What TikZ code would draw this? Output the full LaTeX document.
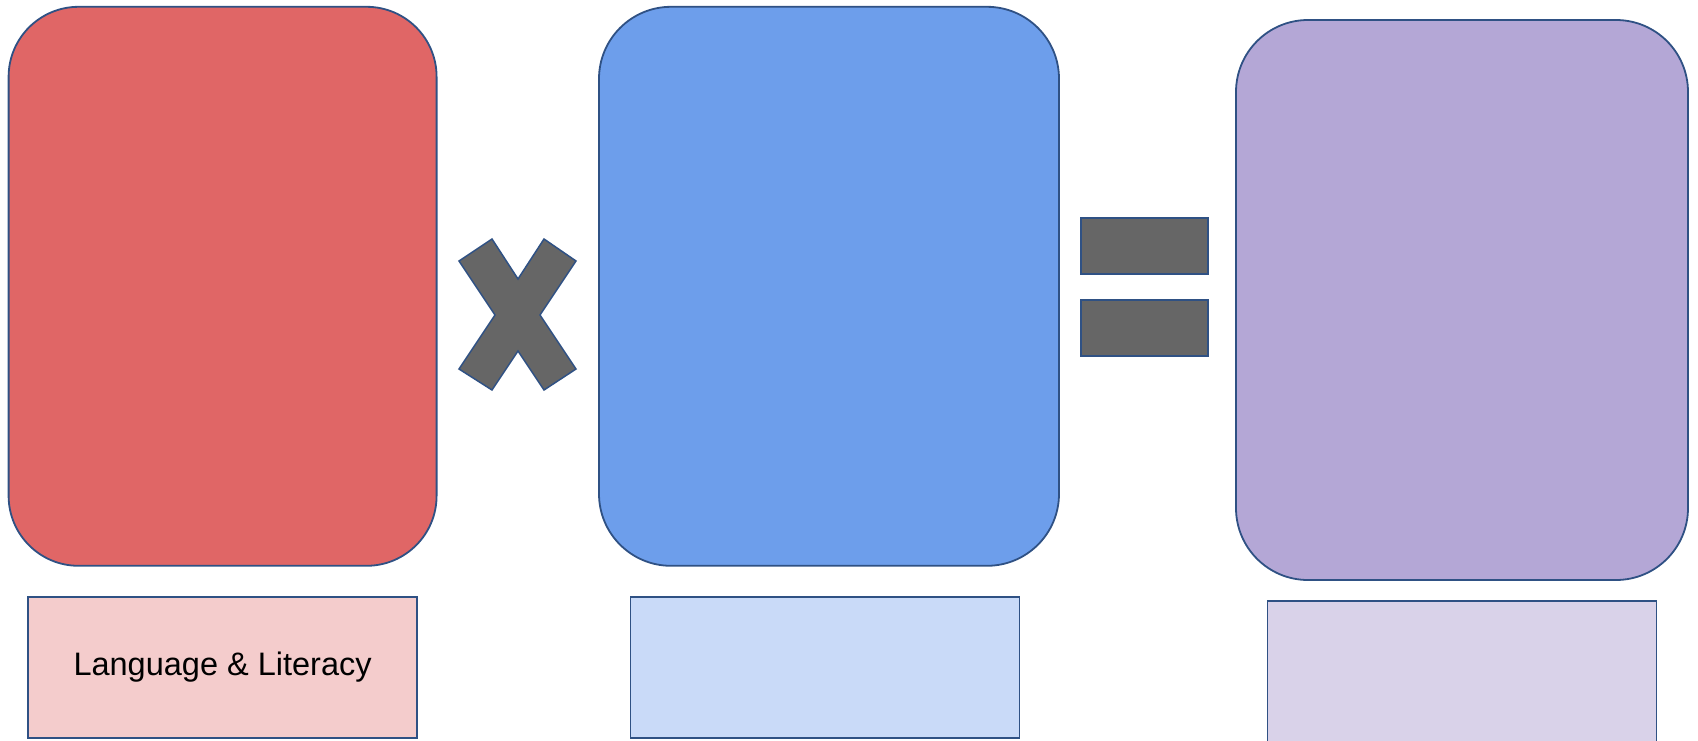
\documentclass[tikz,border=0pt]{standalone}
\usepackage{fontspec}
\setmainfont{Liberation Sans}
\usepackage{xcolor}
\usetikzlibrary{positioning}
\definecolor{litred}{HTML}{E06666}
\definecolor{litpink}{HTML}{F4CCCC}
\definecolor{midblue}{HTML}{6D9EEB}
\definecolor{paleblue}{HTML}{C9DAF8}
\definecolor{lavender}{HTML}{B4A7D6}
\definecolor{palelav}{HTML}{D9D2E9}
\definecolor{edgeblue}{HTML}{2F5184}
\definecolor{opgray}{HTML}{666666}
\tikzset{
    bigbox/.style={draw=edgeblue, line width=1.8pt, rounded corners=72pt, inner sep=0pt},
    labelbox/.style={draw=edgeblue, line width=1.8pt, inner sep=0pt, minimum width=389pt, minimum height=141pt, font=\fontsize{32.5}{38}\selectfont},
    opbar/.style={draw=edgeblue, line width=1.5pt, fill=opgray, inner sep=0pt, minimum width=127pt, minimum height=56pt}
}
\begin{document}
\begin{tikzpicture}[x=1pt, y=-1pt]
    \useasboundingbox (0,0) rectangle (1698,740);
    % factor boxes
    \node[bigbox, fill=litred, minimum width=428pt, minimum height=559pt, rounded corners=70pt] (lit) at (222.6,286.3) {};
    \node[bigbox, fill=midblue, minimum width=460pt, minimum height=559pt] (mid) at (829,286.3) {};
    \node[bigbox, fill=lavender, minimum width=452pt, minimum height=560pt] (res) at (1462,300) {};
    % labels
    \node[labelbox, fill=litpink, below=29pt of lit] (litlabel) {Language \& Literacy};
    \node[labelbox, fill=paleblue, below=29pt of mid, xshift=-4pt] (midlabel) {};
    \node[labelbox, fill=palelav, below=19pt of res, minimum height=146pt] (reslabel) {};
    % times sign
    \draw[draw=edgeblue, line width=1.5pt, fill=opgray, line join=miter]
        (459,261) -- (492,239) -- (518,279) -- (544,239) -- (576,261) -- (540,315)
        -- (576,369) -- (544,390) -- (518,351) -- (492,390) -- (459,369) -- (495,315) -- cycle;
    % equals sign
    \node[opbar] (eqtop) at (1144.5,246) {};
    \node[opbar] (eqbot) at (1144.5,328) {};
\end{tikzpicture}
\end{document}
